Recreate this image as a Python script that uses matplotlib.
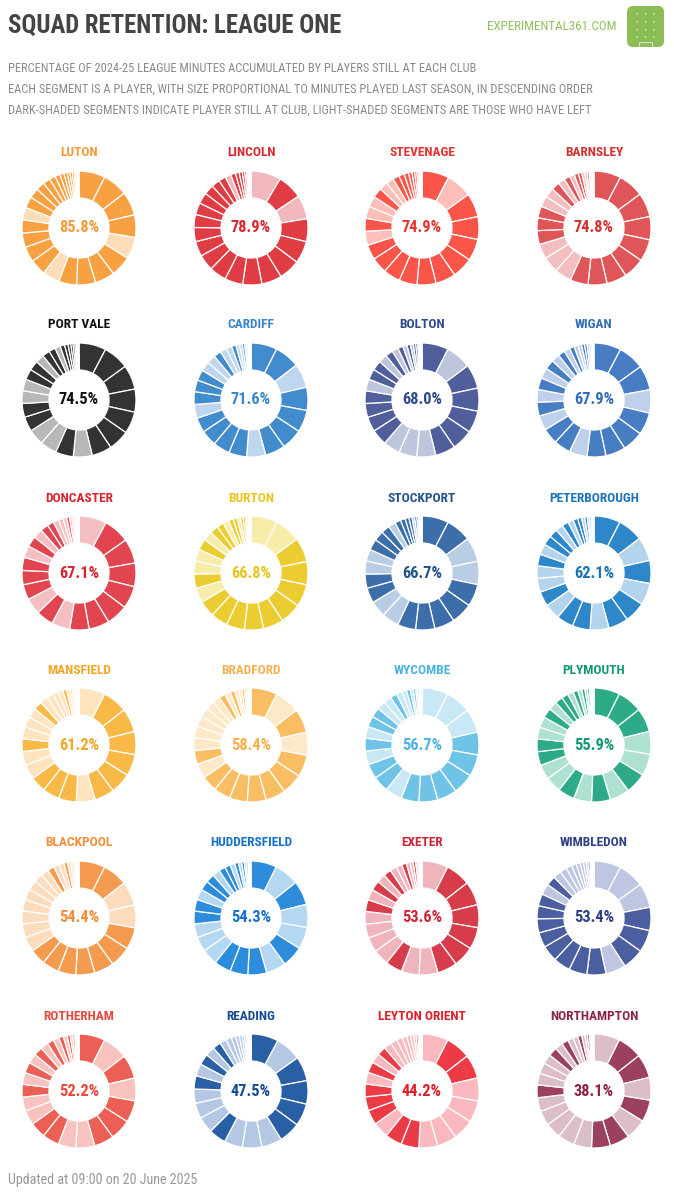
import matplotlib
matplotlib.use("Agg")
import matplotlib.pyplot as plt
from matplotlib.patches import FancyBboxPatch, Circle, Rectangle

# clubs, in the order of the grid (4 per row)
teams = ["LUTON", "LINCOLN", "STEVENAGE", "BARNSLEY",
         "PORT VALE", "CARDIFF", "BOLTON", "WIGAN",
         "DONCASTER", "BURTON", "STOCKPORT", "PETERBOROUGH",
         "MANSFIELD", "BRADFORD", "WYCOMBE", "PLYMOUTH",
         "BLACKPOOL", "HUDDERSFIELD", "EXETER", "WIMBLEDON",
         "ROTHERHAM", "READING", "LEYTON ORIENT", "NORTHAMPTON"]
pcts = [85.8, 78.9, 74.9, 74.8,
        74.5, 71.6, 68.0, 67.9,
        67.1, 66.8, 66.7, 62.1,
        61.2, 58.4, 56.7, 55.9,
        54.4, 54.3, 53.6, 53.4,
        52.2, 47.5, 44.2, 38.1]

name_colours = ["#f39a37", "#d7262e", "#e8312f", "#d32f2f",
                "#111111", "#3a86c8", "#2e4a8c", "#2f6db5",
                "#d8232f", "#e8c51d", "#23518e", "#1a73b8",
                "#f5a623", "#f7b04e", "#4db3e0", "#119977",
                "#f58c3b", "#1572cc", "#d32235", "#2d3f85",
                "#e8473d", "#154a94", "#e01e2b", "#8c2345"]
dark_colours = ["#f7a143", "#e03c44", "#fa5548", "#e05658",
                "#333333", "#428ccd", "#505f9b", "#467dc3",
                "#e14650", "#ebcd32", "#3c6eaa", "#2d87c8",
                "#f9b946", "#f9be64", "#6ec3e6", "#2daa87",
                "#f59b50", "#2d8cdc", "#d73c4b", "#4b5fa0",
                "#eb5f55", "#285fa5", "#eb3c46", "#9b415f"]
light_colours = ["#fcddb8", "#f2b9bc", "#fcbeb9", "#f3bec0",
                 "#b8b8b8", "#bed7ee", "#bec6dc", "#bed0eb",
                 "#f5bec3", "#f8ecaa", "#b9cde4", "#b4d4ee",
                 "#fde4be", "#fde8c8", "#c8e8f5", "#afe1d2",
                 "#fddcbe", "#b4d7f2", "#f0b4bc", "#bec6e1",
                 "#f8c3be", "#b4c8e4", "#fab9be", "#dcbec8"]

# league minutes per player, descending (clockwise from 12 o'clock)
luton = [3950, 3750, 3550, 3400, 3250, 3100, 2950, 2850, 2700, 2550, 2400, 2300, 2150, 2000, 1850,
         1700, 1500, 1300, 1100, 900, 750, 600, 500, 420, 360, 300, 250, 200, 150, 100]
lincoln = [4400, 3650, 3500, 3350, 3250, 3100, 2950, 2800, 2650, 2500, 2350, 2200, 2050, 1900, 1750,
           1600, 1450, 1250, 1050, 850, 700, 550, 450, 350, 280, 220, 170, 120, 80, 50]
stevenage = [4000, 3800, 3500, 3350, 3200, 3050, 2950, 2800, 2650, 2500, 2350, 2200, 2050, 1900, 1750,
             1600, 1450, 1250, 1100, 950, 800, 650, 500, 400, 320, 250, 200, 150, 100, 60]
barnsley = [3900, 3700, 3500, 3350, 3200, 3050, 2900, 2750, 2600, 2450, 2300, 2150, 2000, 1850, 1700,
            1550, 1400, 1200, 1000, 850, 700, 600, 500, 420, 350, 300, 250, 200, 150, 100]
port_vale = [3950, 3750, 3550, 3350, 3200, 3050, 2900, 2750, 2600, 2450, 2300, 2150, 2000, 1850, 1700,
             1550, 1400, 1250, 1100, 950, 800, 650, 500, 400, 330, 270, 220, 170, 120, 80]
cardiff = [3800, 3650, 3500, 3350, 3200, 3050, 2900, 2750, 2600, 2450, 2300, 2150, 2000, 1850, 1700,
           1550, 1400, 1250, 1100, 950, 800, 650, 500, 420, 350, 290, 230, 180, 130, 80]
bolton = [3850, 3700, 3500, 3350, 3200, 3050, 2900, 2750, 2600, 2450, 2300, 2150, 2000, 1850, 1700,
          1550, 1400, 1250, 1100, 900, 750, 600, 500, 420, 350, 290, 230, 180, 130, 80]
wigan = [3950, 3800, 3600, 3400, 3250, 3050, 2900, 2750, 2600, 2450, 2300, 2150, 2000, 1850, 1700,
         1550, 1400, 1200, 1000, 850, 700, 600, 500, 430, 370, 310, 250, 200, 150, 100]
doncaster = [4000, 3750, 3550, 3400, 3250, 3100, 2950, 2800, 2650, 2500, 2350, 2200, 2050, 1900, 1700,
             1550, 1350, 1150, 950, 800, 650, 520, 420, 350, 290, 240, 190, 140, 100, 60]
burton = [3900, 3750, 3550, 3400, 3250, 3100, 2950, 2800, 2650, 2500, 2350, 2200, 2050, 1900, 1750,
          1600, 1400, 1200, 1000, 850, 700, 580, 480, 400, 330, 270, 210, 160, 110, 70]
stockport = [3900, 3700, 3550, 3400, 3250, 3100, 2950, 2800, 2650, 2500, 2350, 2200, 2050, 1900, 1750,
             1600, 1450, 1250, 1050, 850, 700, 560, 460, 380, 310, 250, 200, 150, 100, 60]
peterborough = [3850, 3700, 3500, 3350, 3200, 3050, 2900, 2750, 2600, 2450, 2300, 2150, 2000, 1850, 1700,
                1550, 1400, 1250, 1100, 950, 800, 680, 560, 460, 380, 310, 250, 190, 140, 90]
mansfield = [3900, 3700, 3550, 3400, 3250, 3100, 2950, 2800, 2650, 2500, 2350, 2200, 2050, 1900, 1750,
             1600, 1450, 1300, 1150, 1000, 850, 700, 570, 460, 380, 310, 250, 190, 140, 90]
bradford = [3850, 3650, 3500, 3350, 3200, 3050, 2900, 2750, 2600, 2450, 2300, 2150, 2000, 1850, 1700,
            1550, 1400, 1250, 1100, 950, 800, 680, 560, 460, 380, 310, 250, 190, 140, 90]
wycombe = [3900, 3750, 3550, 3400, 3250, 3100, 2950, 2800, 2650, 2500, 2350, 2200, 2050, 1900, 1750,
           1600, 1450, 1300, 1150, 1000, 850, 700, 560, 450, 370, 300, 240, 180, 130, 80]
plymouth = [3850, 3700, 3550, 3400, 3250, 3100, 2950, 2800, 2650, 2500, 2350, 2200, 2050, 1900, 1750,
            1600, 1450, 1300, 1150, 1000, 850, 700, 580, 470, 380, 310, 250, 190, 140, 90]
blackpool = [3900, 3700, 3550, 3400, 3250, 3100, 2950, 2800, 2650, 2500, 2350, 2200, 2050, 1900, 1750,
             1600, 1450, 1300, 1150, 1000, 850, 700, 560, 450, 360, 290, 230, 170, 120, 70]
huddersfield = [3750, 3600, 3500, 3350, 3200, 3050, 2900, 2750, 2600, 2450, 2300, 2150, 2000, 1850, 1700,
                1550, 1400, 1250, 1100, 950, 800, 680, 560, 460, 380, 310, 250, 190, 140, 90]
exeter = [3900, 3700, 3550, 3400, 3250, 3100, 2950, 2800, 2650, 2500, 2350, 2200, 2050, 1900, 1750,
          1600, 1450, 1300, 1150, 1000, 850, 700, 570, 460, 370, 300, 240, 180, 130, 80]
wimbledon = [3950, 3800, 3600, 3400, 3250, 3100, 2950, 2800, 2650, 2500, 2350, 2200, 2050, 1900, 1750,
             1600, 1400, 1200, 1000, 850, 700, 580, 480, 400, 330, 270, 210, 160, 110, 70]
rotherham = [3900, 3750, 3550, 3400, 3250, 3100, 2950, 2800, 2650, 2500, 2350, 2200, 2050, 1900, 1750,
             1600, 1450, 1300, 1150, 1000, 850, 700, 570, 460, 370, 300, 240, 180, 130, 80]
reading = [4050, 3800, 3600, 3450, 3300, 3150, 3000, 2850, 2700, 2550, 2400, 2250, 2100, 1950, 1800,
           1600, 1400, 1200, 1000, 800, 650, 520, 420, 340, 280, 230, 180, 140, 100, 60]
leyton_orient = [3900, 3700, 3550, 3400, 3250, 3100, 2950, 2800, 2650, 2500, 2350, 2200, 2050, 1900, 1750,
                 1600, 1450, 1300, 1150, 1000, 850, 700, 560, 450, 360, 290, 230, 170, 120, 70]
northampton = [3850, 3700, 3550, 3400, 3250, 3100, 2950, 2800, 2650, 2500, 2350, 2200, 2050, 1900, 1750,
               1600, 1450, 1300, 1150, 1000, 850, 700, 580, 470, 380, 310, 250, 190, 140, 90]

minutes = [luton, lincoln, stevenage, barnsley, port_vale, cardiff, bolton, wigan,
           doncaster, burton, stockport, peterborough, mansfield, bradford, wycombe, plymouth,
           blackpool, huddersfield, exeter, wimbledon, rotherham, reading, leyton_orient, northampton]

# positions (in the lists above) of players who have left the club
left_idx = [
    [4, 9, 14, 29],
    [0, 2, 19, 25, 26, 28],
    [1, 12, 14, 15, 17, 18, 28],
    [9, 10, 11, 15, 16, 18, 20, 23, 24, 26, 27, 29],
    [7, 9, 10, 13, 14, 17, 20, 29],
    [2, 7, 12, 16, 17, 19, 20, 22, 23, 25, 26, 28, 29],
    [1, 7, 8, 9, 14, 17, 19, 21, 23, 26, 28],
    [3, 8, 11, 13, 15, 17, 19, 21, 22, 25, 27, 28],
    [0, 8, 10, 14, 16, 19, 20, 21, 23, 24, 25, 27, 29],
    [0, 1, 11, 13, 14, 16, 19, 22, 25, 27, 28, 29],
    [2, 3, 9, 10, 13, 14, 18, 23, 26, 27, 28],
    [2, 4, 7, 10, 12, 13, 15, 18, 20, 23, 25, 28],
    [0, 7, 11, 12, 14, 15, 16, 18, 19, 20, 21, 23, 24, 25, 26, 27, 29],
    [1, 3, 11, 13, 14, 15, 16, 17, 18, 20, 22, 23, 25, 26, 27, 28, 29],
    [0, 1, 2, 9, 12, 14, 17, 18, 20, 21, 23, 25, 27, 29],
    [3, 4, 6, 8, 10, 11, 14, 15, 17, 20, 22, 24, 26, 28],
    [2, 3, 11, 12, 13, 14, 15, 16, 17, 18, 20, 21, 23, 24, 25, 26, 27, 28, 29],
    [1, 3, 4, 6, 10, 11, 12, 15, 18, 21, 23, 25, 27, 29],
    [0, 7, 8, 10, 11, 12, 13, 15, 17, 19, 20, 22, 23, 25, 26, 28],
    [0, 1, 2, 6, 15, 17, 18, 19, 20, 21, 22, 23, 24, 26, 27, 28, 29],
    [1, 3, 7, 8, 11, 12, 14, 16, 18, 20, 22, 24, 26, 28, 29],
    [1, 6, 7, 8, 10, 11, 12, 14, 16, 18, 19, 20, 21, 22, 23, 24, 25, 26, 27, 28, 29],
    [0, 3, 4, 5, 6, 7, 10, 14, 16, 18, 19, 20, 21, 22, 23, 24, 27, 28, 29],
    [0, 3, 5, 8, 9, 10, 11, 12, 14, 15, 16, 18, 20, 21, 23, 24, 26, 27, 28, 29],
]

subtitle = ["PERCENTAGE OF 2024-25 LEAGUE MINUTES ACCUMULATED BY PLAYERS STILL AT EACH CLUB",
            "EACH SEGMENT IS A PLAYER, WITH SIZE PROPORTIONAL TO MINUTES PLAYED LAST SEASON, IN DESCENDING ORDER",
            "DARK-SHADED SEGMENTS INDICATE PLAYER STILL AT CLUB, LIGHT-SHADED SEGMENTS ARE THOSE WHO HAVE LEFT"]

# layout in pixels
W, H = 674, 1200
col_x = [79, 251, 422, 594]
row_y = [228, 400, 573, 745, 918, 1091]
R = 57
HOLE = 30

plt.rcParams['font.family'] = ['Roboto Condensed', 'Liberation Sans Narrow', 'DejaVu Sans']

fig = plt.figure(figsize=(W / 100, H / 100), dpi=100)
fig.patch.set_facecolor("white")


def fx(x):
    return x / W


def fy(y):
    return 1 - y / H


def inch(x, y):
    # pixel (from top-left) -> inches from bottom-left
    return x / 100, (H - y) / 100


fig.text(fx(8), fy(26), "SQUAD RETENTION: LEAGUE ONE", fontsize=17.8, fontweight="bold",
         color="#444444", va="center", ha="left")
for k, line in enumerate(subtitle):
    fig.text(fx(8), fy(68 + 21 * k), line, fontsize=8.9, color="#8a8a8a", va="center", ha="left")

fig.text(fx(617), fy(27), "EXPERIMENTAL361.COM", fontsize=9.4, color="#8dc15a",
         va="center", ha="right")

# little pitch logo
logo = FancyBboxPatch(inch(627, 47), 0.37, 0.41,
                      boxstyle="round,pad=0,rounding_size=0.06",
                      transform=fig.dpi_scale_trans, facecolor="#8cbd57", edgecolor="none")
fig.add_artist(logo)
for px in [637, 645.5, 654]:
    for py in [14, 22, 30, 37]:
        fig.add_artist(Circle(inch(px, py), 0.008, transform=fig.dpi_scale_trans,
                              facecolor="white", edgecolor="none", alpha=0.75))
fig.add_artist(Rectangle(inch(639, 47), 0.13, 0.05, transform=fig.dpi_scale_trans,
                         facecolor="none", edgecolor="white", linewidth=0.6, alpha=0.75))

for i, team in enumerate(teams):
    cx = col_x[i % 4]
    cy = row_y[i // 4]
    mins = minutes[i]
    gone = left_idx[i]
    cols = [light_colours[i] if j in gone else dark_colours[i] for j in range(len(mins))]

    ax = fig.add_axes([fx(cx - R), fy(cy + R), 2 * R / W, 2 * R / H])
    ax.pie(mins, colors=cols, startangle=90, counterclock=False, radius=1,
           wedgeprops=dict(width=(R - HOLE) / R, edgecolor="white", linewidth=0.9))
    ax.set_xlim(-1.0, 1.0)
    ax.set_ylim(-1.0, 1.0)
    ax.set_aspect("equal")
    ax.axis("off")
    ax.text(0, 0, f"{pcts[i]:.1f}%", ha="center", va="center",
            color=name_colours[i], fontsize=11.8, fontweight="bold")

    fig.text(fx(cx), fy(cy - 75), team, ha="center", va="center", fontsize=9.6,
             fontweight="bold", color=name_colours[i])

fig.text(fx(8), fy(1180), "Updated at 09:00 on 20 June 2025", fontsize=10.2,
         color="#999999", va="center", ha="left")

fig.savefig("out.png", dpi=100, facecolor="white")
